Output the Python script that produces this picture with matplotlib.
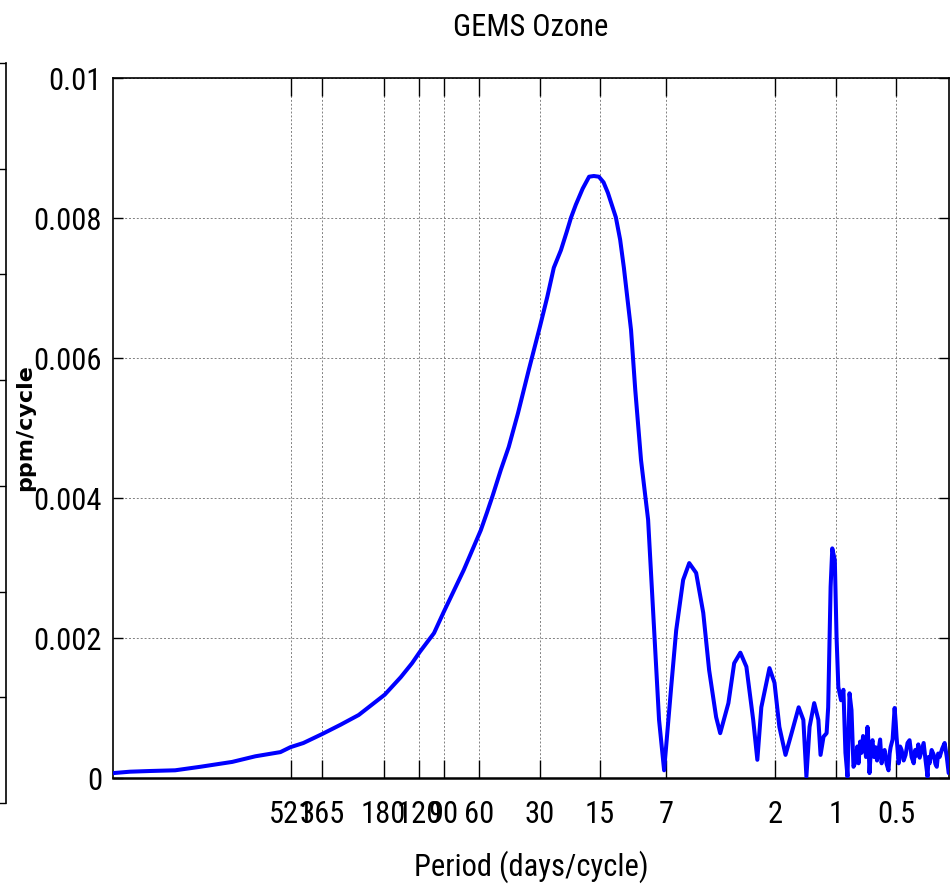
import numpy as np
import matplotlib
matplotlib.use("Agg")
import matplotlib.pyplot as plt

# ---------------- data ----------------
period_days = [4038, 3320, 2637, 1977, 1483, 1026, 787, 590, 526, 453, 364, 296, 240,
               178, 148, 130, 119, 101, 90.4, 80, 71.8, 65, 59.0, 55, 51.4, 46.9, 42.8,
               38.5, 34.0, 32, 29.9, 27.5, 25.5, 23.5, 22, 20.9, 19.8, 18.3, 17.0, 16.1,
               15.2, 14.4, 13.7, 12.5, 11.9, 11.4, 11.0, 10.5, 10.0, 9.36,
               8.63, 8.05, 7.61, 7.18, 6.62, 6.25, 5.77, 5.38, 4.97, 4.58, 4.28, 3.95,
               3.77, 3.43, 3.21, 2.99, 2.79, 2.58, 2.46, 2.35, 2.14, 2.02, 1.91, 1.78,
               1.66, 1.53, 1.45, 1.40, 1.35, 1.28, 1.22, 1.19, 1.15, 1.11, 1.09, 1.06,
               1.04, 1.01, 0.99, 0.97, 0.94, 0.915, 0.894, 0.873, 0.853, 0.834, 0.815,
               0.796, 0.780, 0.769, 0.755, 0.743, 0.730, 0.718, 0.706, 0.694, 0.686,
               0.678, 0.666, 0.655, 0.644, 0.633, 0.622, 0.611, 0.600, 0.590, 0.580,
               0.570, 0.557, 0.545, 0.538, 0.532, 0.520, 0.508, 0.502, 0.497, 0.491,
               0.485, 0.477, 0.469, 0.458, 0.448, 0.438, 0.428, 0.418, 0.408, 0.401,
               0.394, 0.387, 0.381, 0.372, 0.364, 0.356, 0.348, 0.344, 0.340, 0.332,
               0.324, 0.318, 0.313, 0.308, 0.303, 0.294, 0.286, 0.279, 0.273]
power_milli = [0.07, 0.09, 0.10, 0.11, 0.16, 0.23, 0.31, 0.37, 0.44, 0.50, 0.63, 0.76, 0.90,
               1.19, 1.44, 1.64, 1.80, 2.07, 2.37, 2.69, 2.97, 3.26, 3.54, 3.79, 4.04, 4.40,
               4.73, 5.21, 5.83, 6.12, 6.45, 6.87, 7.29, 7.54, 7.80, 8.01, 8.19, 8.42, 8.59,
               8.60, 8.59, 8.51, 8.36, 8.01, 7.69, 7.29, 6.90, 6.40, 5.54, 4.54,
               3.69, 2.11, 0.83, 0.11, 1.30, 2.11, 2.83, 3.07, 2.93, 2.36, 1.54, 0.87,
               0.64, 1.07, 1.64, 1.79, 1.59, 0.83, 0.26, 1.01, 1.57, 1.36, 0.73, 0.33,
               0.64, 1.01, 0.83, 0.02, 0.73, 1.07, 0.83, 0.33, 0.59, 0.64, 1.01, 2.73,
               3.28, 3.11, 2.01, 1.30, 1.11, 1.26, 0.36, 0.02, 1.21, 0.97, 0.16,
               0.23, 0.45, 0.21, 0.52, 0.36, 0.60, 0.54, 0.30, 0.73, 0.50,
               0.07, 0.45, 0.54, 0.30, 0.44, 0.25, 0.40, 0.55, 0.21, 0.35,
               0.40, 0.20, 0.11, 0.35, 0.44, 0.55, 1.00, 0.80, 0.59, 0.40,
               0.21, 0.45, 0.40, 0.25, 0.33, 0.50, 0.54, 0.30, 0.21, 0.40,
               0.32, 0.48, 0.29, 0.40, 0.50, 0.25, 0.02, 0.30, 0.21, 0.40,
               0.33, 0.20, 0.16, 0.35, 0.30, 0.42, 0.50, 0.30, 0.07]

xtick_periods = [521, 365, 180, 120, 90, 60, 30, 15, 7, 2, 1, 0.5]
xtick_labels = ["521", "365", "180", "120", "90", "60", "30", "15", "7", "2", "1", "0.5"]
ytick_values = [0, 0.002, 0.004, 0.006, 0.008, 0.01]
ytick_labels = ["0", "0.002", "0.004", "0.006", "0.008", "0.01"]

title_text = "GEMS Ozone"
xlabel_text = "Period (days/cycle)"
ylabel_text = "ppm/cycle"

narrow = ["Roboto Condensed", "Liberation Sans"]
tick_size, title_size, xlab_size = 22, 22, 22

W, H = 950, 894
fig = plt.figure(figsize=(W / 100, H / 100), dpi=100)

x0, x1, y_top, y_bot = 113, 949, 78, 778
ax = fig.add_axes([x0 / W, (H - y_bot) / H, (x1 - x0) / W, (y_bot - y_top) / H])

power = np.array(power_milli) * 1e-3
ax.plot(period_days, power, color=(0, 0, 1), lw=2.9, solid_joinstyle="round",
        solid_capstyle="round", zorder=3)

ax.set_xscale("log")
ax.set_xlim(4038, 0.272)
ax.set_ylim(0, 0.01)

ax.set_xticks(xtick_periods)
ax.set_xticklabels(xtick_labels)
ax.xaxis.set_minor_locator(matplotlib.ticker.NullLocator())
ax.set_yticks(ytick_values)
ax.set_yticklabels(ytick_labels)

ax.grid(True, which="major", linestyle=(0, (2, 2)), color="0.5", lw=0.7, zorder=1)

ax.tick_params(axis="x", which="major", direction="in", length=13, width=1.0,
               top=True, bottom=True, pad=16, color="black")
ax.tick_params(axis="y", which="major", direction="in", length=7, width=1.0,
               left=True, right=True, pad=8, color="black")
for lab in ax.get_xticklabels() + ax.get_yticklabels():
    lab.set_fontfamily(narrow)
    lab.set_fontsize(tick_size)

for side in ["left", "right", "top"]:
    ax.spines[side].set_linewidth(1.2)
ax.spines["bottom"].set_linewidth(1.8)

ax.set_title(title_text, fontsize=title_size, fontfamily=narrow, pad=30)
ax.set_xlabel(xlabel_text, fontsize=xlab_size, fontfamily=narrow)
ax.xaxis.set_label_coords(0.5, (y_bot - 850) / (y_bot - y_top))
ax.set_ylabel(ylabel_text, fontsize=16, fontweight="bold", fontfamily="DejaVu Sans")
ax.yaxis.set_label_coords((35 - x0) / (x1 - x0), 0.5)

# partially visible neighbouring panel at the left edge
lx, ly_top, ly_bot = 6, 63, 803
ax2 = fig.add_axes([-0.5, (H - ly_bot) / H, 0.5 + lx / W, (ly_bot - ly_top) / H])
ax2.set_xlim(0, 1)
ax2.set_ylim(0, 7)
ax2.set_xticks([])
ax2.set_yticks(np.arange(8))
ax2.yaxis.tick_right()
ax2.tick_params(axis="y", direction="in", length=5, width=1.0, labelright=False)
for side in ["left", "top", "bottom"]:
    ax2.spines[side].set_visible(False)
ax2.spines["right"].set_linewidth(1.2)
ax2.patch.set_visible(False)

fig.savefig("out.png", dpi=100)
